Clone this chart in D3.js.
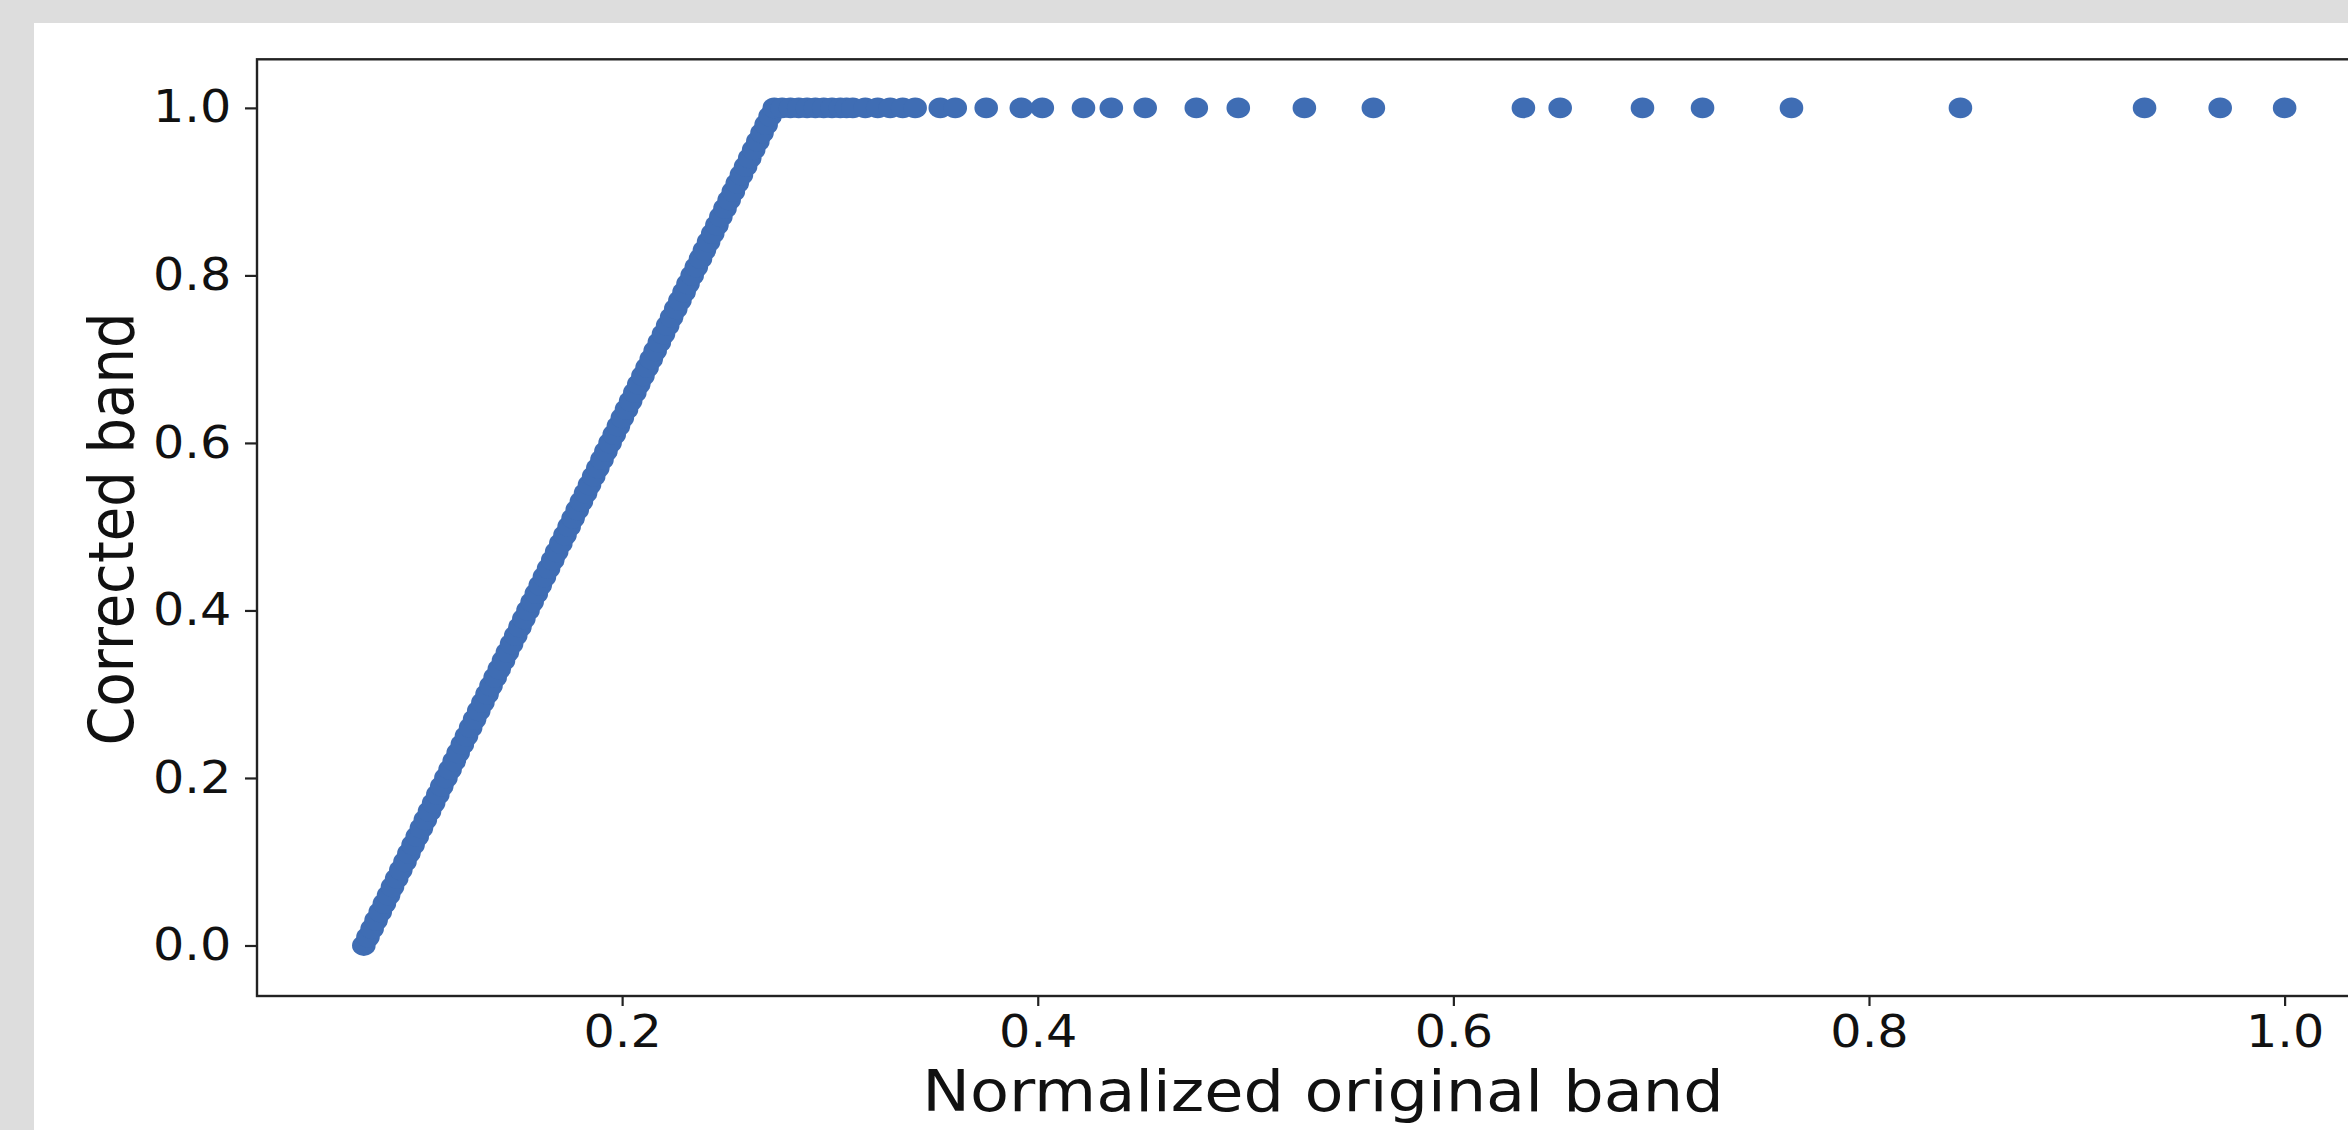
<!DOCTYPE html>
<html lang="en">

<head>
  <meta charset="UTF-8">
  <title>Corrected vs Normalized band</title>
  <script src="https://d3js.org/d3.v7.min.js"></script>
  <style>
    body {
      margin: 0;
      background: #dddddd;
      font-family: "DejaVu Sans", sans-serif;
    }

    svg {
      display: block;
    }

    .dot {
      fill: #3f6db4;
    }

    .tick line {
      stroke: #222;
      stroke-width: 2.2px;
    }

    .tick text {
      font-family: "DejaVu Sans", sans-serif;
      font-size: 44px;
      fill: #111;
    }
  </style>
</head>

<body>
  <div id="chart"></div>

  <script>
    // normalized original band (x) and corrected band (y)
    const origBand = [
      0.0757, 0.0777, 0.0797, 0.0816, 0.0836, 0.0856, 0.0876, 0.0895, 0.0915, 0.0935,
      0.0955, 0.0974, 0.0994, 0.1014, 0.1034, 0.1053, 0.1073, 0.1093, 0.1113, 0.1132,
      0.1152, 0.1172, 0.1192, 0.1211, 0.1231, 0.1251, 0.1271, 0.1290, 0.1310, 0.1330,
      0.1350, 0.1369, 0.1389, 0.1409, 0.1429, 0.1448, 0.1468, 0.1488, 0.1508, 0.1527,
      0.1547, 0.1567, 0.1587, 0.1606, 0.1626, 0.1646, 0.1666, 0.1685, 0.1705, 0.1725,
      0.1745, 0.1764, 0.1784, 0.1804, 0.1824, 0.1843, 0.1863, 0.1883, 0.1903, 0.1922,
      0.1942, 0.1962, 0.1982, 0.2001, 0.2021, 0.2041, 0.2061, 0.2080, 0.2100, 0.2120,
      0.2140, 0.2159, 0.2179, 0.2199, 0.2219, 0.2238, 0.2258, 0.2278, 0.2298, 0.2317,
      0.2337, 0.2357, 0.2377, 0.2396, 0.2416, 0.2436, 0.2456, 0.2475, 0.2495, 0.2515,
      0.2535, 0.2554, 0.2574, 0.2594, 0.2614, 0.2633, 0.2653, 0.2673, 0.2693, 0.2712,
      0.2732,
      0.277, 0.281, 0.285, 0.289, 0.293, 0.297, 0.301, 0.305, 0.308, 0.311,
      0.317, 0.323, 0.329, 0.335, 0.341,
      0.3531, 0.3603, 0.3752, 0.3921, 0.4022, 0.422, 0.4354, 0.4517, 0.4763, 0.4965,
      0.5283, 0.5615, 0.6337, 0.6514, 0.691, 0.7199, 0.7627, 0.844, 0.9326, 0.969,
      1.0
    ];
    const corrBand = [
      0.00, 0.01, 0.02, 0.03, 0.04, 0.05, 0.06, 0.07, 0.08, 0.09,
      0.10, 0.11, 0.12, 0.13, 0.14, 0.15, 0.16, 0.17, 0.18, 0.19,
      0.20, 0.21, 0.22, 0.23, 0.24, 0.25, 0.26, 0.27, 0.28, 0.29,
      0.30, 0.31, 0.32, 0.33, 0.34, 0.35, 0.36, 0.37, 0.38, 0.39,
      0.40, 0.41, 0.42, 0.43, 0.44, 0.45, 0.46, 0.47, 0.48, 0.49,
      0.50, 0.51, 0.52, 0.53, 0.54, 0.55, 0.56, 0.57, 0.58, 0.59,
      0.60, 0.61, 0.62, 0.63, 0.64, 0.65, 0.66, 0.67, 0.68, 0.69,
      0.70, 0.71, 0.72, 0.73, 0.74, 0.75, 0.76, 0.77, 0.78, 0.79,
      0.80, 0.81, 0.82, 0.83, 0.84, 0.85, 0.86, 0.87, 0.88, 0.89,
      0.90, 0.91, 0.92, 0.93, 0.94, 0.95, 0.96, 0.97, 0.98, 0.99,
      1.00,
      1.0, 1.0, 1.0, 1.0, 1.0, 1.0, 1.0, 1.0, 1.0, 1.0,
      1.0, 1.0, 1.0, 1.0, 1.0,
      1.0, 1.0, 1.0, 1.0, 1.0, 1.0, 1.0, 1.0, 1.0, 1.0,
      1.0, 1.0, 1.0, 1.0, 1.0, 1.0, 1.0, 1.0, 1.0, 1.0,
      1.0
    ];
    const xTicks = [0.2, 0.4, 0.6, 0.8, 1.0];
    const yTicks = [0.0, 0.2, 0.4, 0.6, 0.8, 1.0];

    const W = 2348, H = 1130;
    // the source image is stretched sideways a little
    const stretch = 1.12;

    const svg = d3.select("#chart").append("svg")
      .attr("width", W)
      .attr("height", H);

    svg.append("rect")
      .attr("x", 34).attr("y", 23)
      .attr("width", W - 34).attr("height", H - 23)
      .attr("fill", "#fff");

    const frame = { left: 257, top: 59.3, right: 2380, bottom: 996 };

    const x = d3.scaleLinear().domain([0.0243, 1.0459]).range([frame.left, frame.right]);
    const y = d3.scaleLinear().domain([-0.0603, 1.058]).range([frame.bottom, frame.top]);

    const data = origBand.map((v, i) => ({ x: v, y: corrBand[i] }));

    svg.selectAll(".dot")
      .data(data)
      .enter().append("ellipse")
      .attr("class", "dot")
      .attr("cx", d => x(d.x))
      .attr("cy", d => y(d.y))
      .attr("rx", 11.8)
      .attr("ry", 10.4);

    // axes
    const gx = svg.append("g")
      .attr("transform", `translate(0, ${frame.bottom})`)
      .call(d3.axisBottom(x).tickValues(xTicks).tickFormat(d3.format(".1f")).tickSize(10).tickPadding(10));
    gx.select(".domain").remove();
    gx.selectAll(".tick text").attr("transform", `scale(${stretch},1)`);

    const gy = svg.append("g")
      .attr("transform", `translate(${frame.left}, 0)`)
      .call(d3.axisLeft(y).tickValues(yTicks).tickFormat(d3.format(".1f")).tickSize(12).tickPadding(11));
    gy.select(".domain").remove();
    gy.selectAll(".tick text").attr("transform", `scale(${stretch},1)`);

    // frame
    svg.append("rect")
      .attr("x", frame.left)
      .attr("y", frame.top)
      .attr("width", frame.right - frame.left)
      .attr("height", frame.bottom - frame.top)
      .attr("fill", "none")
      .attr("stroke", "#222")
      .attr("stroke-width", 2.4);

    // axis titles
    svg.append("text")
      .attr("transform", `translate(1323, 1111) scale(${stretch},1)`)
      .attr("text-anchor", "middle")
      .attr("font-size", "57px")
      .attr("fill", "#111")
      .text("Normalized original band");

    svg.append("text")
      .attr("transform", `translate(133, 529) scale(${stretch},1) rotate(-90)`)
      .attr("text-anchor", "middle")
      .attr("font-size", "56px")
      .attr("fill", "#111")
      .text("Corrected band");
  </script>
</body>

</html>
